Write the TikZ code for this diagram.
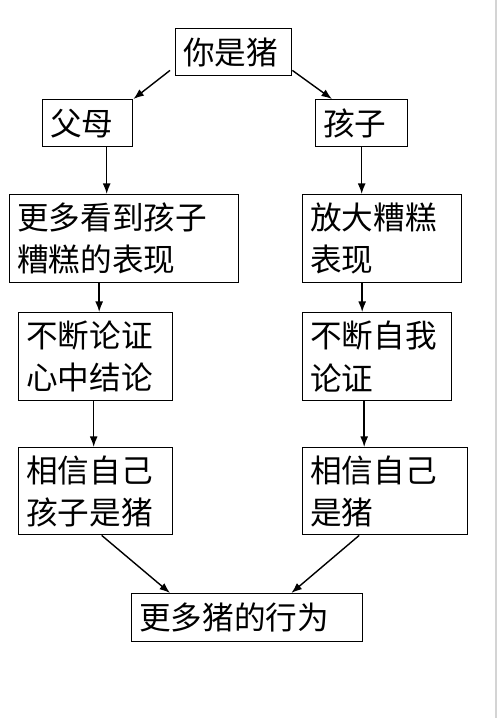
\documentclass[tikz,border=0pt]{standalone}
\usepackage{fontspec}
\usepackage{tikz}
\usetikzlibrary{arrows.meta,positioning}
\newfontfamily\cjk{Noto Sans CJK SC}
\definecolor{bordgris}{HTML}{D4D4D4}

\begin{document}
\begin{tikzpicture}[
    x=0.02cm,y=-0.02cm,
    boite/.style = {draw,line width=0.8pt,anchor=north west,inner xsep=0.15cm,
                    inner ysep=0pt,align=left,
                    font=\cjk\fontsize{18}{24}\selectfont},
    fl/.style    = {-{Latex[length=6pt,width=4.5pt]},line width=0.8pt},
  ]
  \useasboundingbox (0,0) rectangle (500,718);

  % Bord de page
  \draw[bordgris,line width=1pt] (496,0) -- (496,718);

  % Sommet
  \node[boite,text width=2.02cm,minimum height=0.94cm] (porc) at (175,28) {你是猪};

  % Deux branches
  \node[boite,text width=1.50cm,minimum height=0.94cm] (parents) at (42,99) {父母};
  \node[boite,text width=1.54cm,minimum height=0.94cm] (enfant) at (315,99) {孩子};

  \node[boite,text width=4.28cm,minimum height=1.76cm] (voir) at (9,194)
       {更多看到孩子\\糟糕的表现};
  \node[boite,text width=2.88cm,minimum height=1.76cm] (ampl) at (302,194)
       {放大糟糕\\表现};

  \node[boite,text width=2.78cm,minimum height=1.76cm] (arg) at (18,312)
       {不断论证\\心中结论};
  \node[boite,text width=2.68cm,minimum height=1.76cm] (autoarg) at (302,312)
       {不断自我\\论证};

  \node[boite,text width=2.78cm,minimum height=1.74cm] (croitP) at (18,447)
       {相信自己\\孩子是猪};
  \node[boite,text width=3.00cm,minimum height=1.74cm] (croitE) at (302,447)
       {相信自己\\是猪};

  % Résultat
  \node[boite,text width=4.32cm,minimum height=0.96cm] (comport) at (131,593)
       {更多猪的行为};

  % Flèches
  \draw[fl] ([shift={(-5,-6)}]porc.south west) -- (parents.north east);
  \draw[fl] ([shift={(0,-6)}]porc.south east) -- ([shift={(17,0)}]enfant.north west);

  \coordinate (p1) at ([shift={(19,0)}]parents.south);
  \draw[fl] (p1) -- (p1 |- voir.north);
  \draw[fl] (enfant.south) -- (enfant.south |- ampl.north);

  \coordinate (p2) at ([shift={(-25,0)}]voir.south);
  \draw[fl] (p2) -- (p2 |- arg.north);
  \coordinate (e2) at ([shift={(-20,0)}]ampl.south);
  \draw[fl] (e2) -- (e2 |- autoarg.north);

  \coordinate (p3) at ([shift={(-2,0)}]arg.south);
  \draw[fl] (p3) -- (p3 |- croitP.north);
  \coordinate (e3) at ([shift={(-13,0)}]autoarg.south);
  \draw[fl] (e3) -- (e3 |- croitE.north);

  \draw[fl] ([shift={(6,0)}]croitP.south) -- ([shift={(39,0)}]comport.north west);
  \draw[fl] ([shift={(-26,0)}]croitE.south) -- ([shift={(-72,0)}]comport.north east);

\end{tikzpicture}
\end{document}
